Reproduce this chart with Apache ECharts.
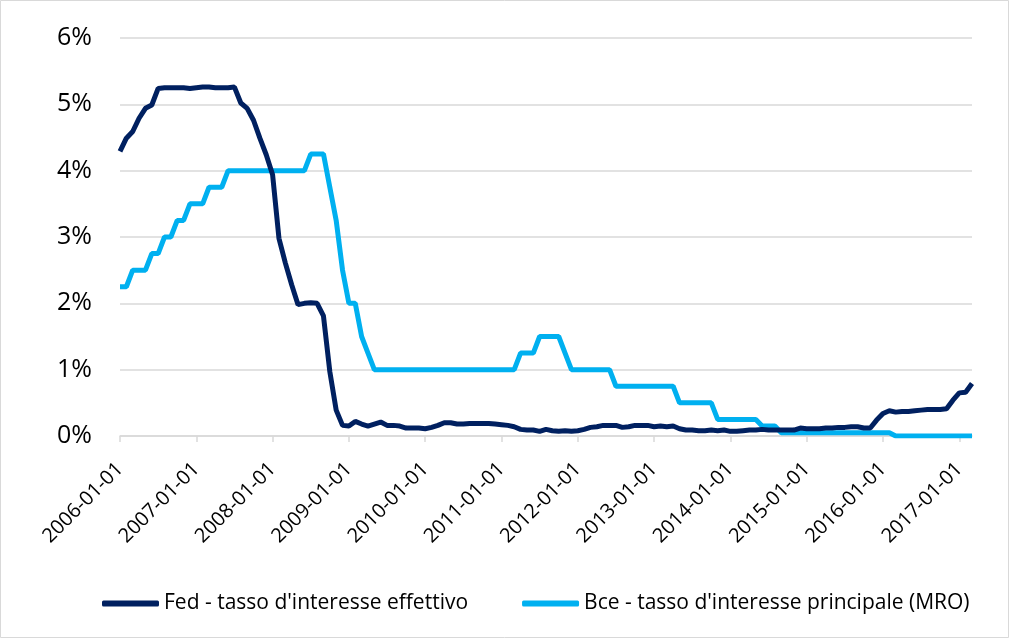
<!DOCTYPE html>
<html>
<head>
<meta charset="utf-8">
<style>
  html, body { margin: 0; padding: 0; background: #fff; }
  #chart { width: 1010px; height: 639px; }
</style>
<script src="https://cdn.jsdelivr.net/npm/echarts@6/dist/echarts.min.js"></script>
</head>
<body>
<div id="chart"></div>
<script>
// mesi da 2006-01 a 2017-03
var categories = []
for (var y = 2006; y <= 2017; y++) {
  for (var m = 1; m <= 12; m++) {
    if (y === 2017 && m > 3) break
    categories.push(y + '-' + (m < 10 ? '0' + m : m) + '-01')
  }
}

var seriesNames = ["Fed - tasso d'interesse effettivo", "Bce - tasso d'interesse principale (MRO)"]

// Fed - tasso effettivo (%)
var fedValues = [
  4.29, 4.49, 4.59, 4.79, 4.94, 4.99, 5.24, 5.25, 5.25, 5.25, 5.25, 5.24,
  5.25, 5.26, 5.26, 5.25, 5.25, 5.25, 5.26, 5.02, 4.94, 4.76, 4.49, 4.24,
  3.94, 2.98, 2.61, 2.28, 1.98, 2.00, 2.01, 2.00, 1.81, 0.97, 0.39, 0.16,
  0.15, 0.22, 0.18, 0.15, 0.18, 0.21, 0.16, 0.16, 0.15, 0.12, 0.12, 0.12,
  0.11, 0.13, 0.16, 0.20, 0.20, 0.18, 0.18, 0.19, 0.19, 0.19, 0.19, 0.18,
  0.17, 0.16, 0.14, 0.10, 0.09, 0.09, 0.07, 0.10, 0.08, 0.07, 0.08, 0.07,
  0.08, 0.10, 0.13, 0.14, 0.16, 0.16, 0.16, 0.13, 0.14, 0.16, 0.16, 0.16,
  0.14, 0.15, 0.14, 0.15, 0.11, 0.09, 0.09, 0.08, 0.08, 0.09, 0.08, 0.09,
  0.07, 0.07, 0.08, 0.09, 0.09, 0.10, 0.09, 0.09, 0.09, 0.09, 0.09, 0.12,
  0.11, 0.11, 0.11, 0.12, 0.12, 0.13, 0.13, 0.14, 0.14, 0.12, 0.12, 0.24,
  0.34, 0.38, 0.36, 0.37, 0.37, 0.38, 0.39, 0.40, 0.40, 0.40, 0.41, 0.54,
  0.65, 0.66, 0.79
]

// Bce - MRO (%)
var bceValues = [
  2.25, 2.25, 2.5, 2.5, 2.5, 2.75, 2.75, 3.0, 3.0, 3.25, 3.25, 3.5,
  3.5, 3.5, 3.75, 3.75, 3.75, 4.0, 4.0, 4.0, 4.0, 4.0, 4.0, 4.0,
  4.0, 4.0, 4.0, 4.0, 4.0, 4.0, 4.25, 4.25, 4.25, 3.75, 3.25, 2.5,
  2.0, 2.0, 1.5, 1.25, 1.0, 1.0, 1.0, 1.0, 1.0, 1.0, 1.0, 1.0,
  1.0, 1.0, 1.0, 1.0, 1.0, 1.0, 1.0, 1.0, 1.0, 1.0, 1.0, 1.0,
  1.0, 1.0, 1.0, 1.25, 1.25, 1.25, 1.5, 1.5, 1.5, 1.5, 1.25, 1.0,
  1.0, 1.0, 1.0, 1.0, 1.0, 1.0, 0.75, 0.75, 0.75, 0.75, 0.75, 0.75,
  0.75, 0.75, 0.75, 0.75, 0.5, 0.5, 0.5, 0.5, 0.5, 0.5, 0.25, 0.25,
  0.25, 0.25, 0.25, 0.25, 0.25, 0.15, 0.15, 0.15, 0.05, 0.05, 0.05, 0.05,
  0.05, 0.05, 0.05, 0.05, 0.05, 0.05, 0.05, 0.05, 0.05, 0.05, 0.05, 0.05,
  0.05, 0.05, 0, 0, 0, 0, 0, 0, 0, 0, 0, 0,
  0, 0, 0
]

var yTicks = { min: 0, max: 6, interval: 1 }

var chart = echarts.init(document.getElementById('chart'))
var font = "'Open Sans', 'Noto Sans', sans-serif"

chart.setOption({
  backgroundColor: '#fff',
  animation: false,
  textStyle: { fontFamily: font },
  graphic: [{
    type: 'rect',
    shape: { x: 0.5, y: 0.5, width: 1008, height: 637 },
    style: { fill: 'none', stroke: '#d9d9d9', lineWidth: 1 }
  }],
  grid: { left: 120, right: 38, top: 38, bottom: 203, containLabel: false },
  legend: {
    bottom: 20,
    left: 97,
    icon: 'roundRect',
    itemWidth: 57,
    itemHeight: 6,
    itemGap: 54,
    textStyle: { fontSize: 21, color: '#000', fontFamily: font },
    data: seriesNames
  },
  xAxis: {
    type: 'category',
    data: categories,
    boundaryGap: false,
    axisLine: { lineStyle: { color: '#d9d9d9', width: 1.5 } },
    axisTick: { show: true, interval: 11, length: 6, lineStyle: { color: '#d9d9d9', width: 1.5 } },
    axisLabel: { interval: 11, rotate: 45, fontSize: 20, color: '#000', margin: 30, fontFamily: font },
    splitLine: { show: false }
  },
  yAxis: {
    type: 'value',
    min: yTicks.min,
    max: yTicks.max,
    interval: yTicks.interval,
    axisLine: { show: false },
    axisTick: { show: false },
    axisLabel: { formatter: '{value}%', fontSize: 25, color: '#000', margin: 28, fontFamily: font },
    splitLine: { lineStyle: { color: '#d9d9d9', width: 1.5 } }
  },
  series: [
    {
      name: seriesNames[0],
      type: 'line',
      data: fedValues,
      symbol: 'none',
      lineStyle: { color: '#002060', width: 5 },
      itemStyle: { color: '#002060' },
      z: 3
    },
    {
      name: seriesNames[1],
      type: 'line',
      data: bceValues,
      symbol: 'none',
      lineStyle: { color: '#00b0f0', width: 5 },
      itemStyle: { color: '#00b0f0' },
      z: 2
    }
  ]
})
</script>
</body>
</html>
